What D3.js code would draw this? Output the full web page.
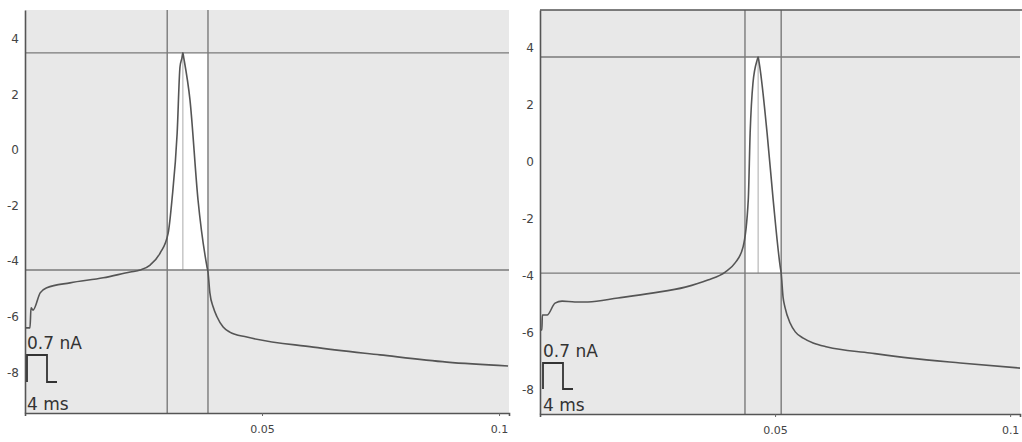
<!DOCTYPE html>
<html>
<head>
<meta charset="utf-8">
<script src="https://cdn.jsdelivr.net/npm/d3@7"></script>
<style>
  body { margin: 0; background: #fff; }
  svg { display: block; }
</style>
</head>
<body>
<div id="chart"></div>
<script>
// ---- data (time in s, value in the trace units) ----
var leftTime = [0, 0.00105, 0.00127, 0.0017, 0.0032, 0.0046, 0.0095, 0.0165, 0.0222, 0.0243, 0.0264, 0.0285,
    0.0302, 0.0310, 0.0321, 0.0327, 0.0331, 0.0333, 0.0335, 0.0348, 0.0365, 0.0384, 0.0386, 0.0390,
    0.0397, 0.0405, 0.0418, 0.0432, 0.0468, 0.0608, 0.0749, 0.0890, 0.1019];
var leftValue = [-6.40, -6.40, -5.68, -5.76, -5.14, -4.96, -4.78, -4.60, -4.39, -4.32, -4.14, -3.71,
    -2.99, -1.80, 0.61, 2.99, 3.30, 3.49, 3.30, 1.80, -1.80, -4.21, -4.39, -5.14,
    -5.65, -6.00, -6.37, -6.55, -6.73, -7.09, -7.37, -7.63, -7.77];

var rightTime = [0, 0.0004, 0.0005, 0.0015, 0.0032, 0.0047, 0.0074, 0.0102, 0.0166, 0.0238, 0.0309, 0.0357,
    0.0394, 0.0415, 0.0432, 0.0443, 0.0447, 0.0453, 0.0462, 0.0464, 0.0466, 0.0483, 0.0496, 0.0511, 0.0513,
    0.0517, 0.0521, 0.0532, 0.0543, 0.0560, 0.0581, 0.0611, 0.0702, 0.0787, 0.0894, 0.1021];
var rightValue = [-5.89, -5.89, -5.37, -5.37, -4.95, -4.88, -4.91, -4.91, -4.77, -4.60, -4.39, -4.14,
    -3.86, -3.54, -2.98, -1.33, 1.02, 2.77, 3.58, 3.68, 3.50, 1.02, -1.33, -3.68, -3.90,
    -4.74, -5.09, -5.65, -5.96, -6.18, -6.35, -6.49, -6.70, -6.88, -7.05, -7.23];

// cursors: [x1, xPeak, x2] and [yTop, yBottom]
var leftCursorX = [0.0300, 0.0333, 0.0386];
var leftCursorY = [3.49, -4.32];
var rightCursorX = [0.0436, 0.0464, 0.0513];
var rightCursorY = [3.68, -3.90];

var yTicks = [-8, -6, -4, -2, 0, 2, 4];
var xTicks = [0.05, 0.1];
var stimLabel = "0.7 nA";
var timeLabel = "4 ms";

var svg = d3.select("#chart").append("svg")
    .attr("width", 1022)
    .attr("height", 442);

var panels = [
    {time: leftTime, value: leftValue, cx: leftCursorX, cy: leftCursorY,
     xr: [25, 509], yr: [413, 10], xd: [0, 0.1021], yd: [-9.46, 5.03], frameTop: false,
     stim: {x: 27, textY: 349, top: 355, bottom: 382, msY: 410}},
    {time: rightTime, value: rightValue, cx: rightCursorX, cy: rightCursorY,
     xr: [540, 1020], yr: [414, 10], xd: [0, 0.1021], yd: [-8.84, 5.33], frameTop: true,
     stim: {x: 543, textY: 357, top: 363, bottom: 389, msY: 411}}
];

panels.forEach(function(p) {
    var x = d3.scaleLinear().domain(p.xd).range(p.xr);
    var y = d3.scaleLinear().domain(p.yd).range(p.yr);
    var g = svg.append("g");

    // background
    g.append("rect")
        .attr("x", p.xr[0]).attr("y", p.yr[1])
        .attr("width", p.xr[1] - p.xr[0]).attr("height", p.yr[0] - p.yr[1])
        .attr("fill", "#e8e8e8");

    // white region between cursors
    g.append("rect")
        .attr("x", x(p.cx[0])).attr("y", y(p.cy[0]))
        .attr("width", x(p.cx[2]) - x(p.cx[0]))
        .attr("height", y(p.cy[1]) - y(p.cy[0]))
        .attr("fill", "#ffffff");

    // peak marker
    g.append("line")
        .attr("x1", x(p.cx[1])).attr("x2", x(p.cx[1]))
        .attr("y1", y(p.cy[0])).attr("y2", y(p.cy[1]))
        .attr("stroke", "#b8b8b8").attr("stroke-width", 1.2);

    // cursor lines
    [p.cx[0], p.cx[2]].forEach(function(c) {
        g.append("line")
            .attr("x1", x(c)).attr("x2", x(c))
            .attr("y1", p.yr[1]).attr("y2", p.yr[0])
            .attr("stroke", "#7a7a7a").attr("stroke-width", 1.4);
    });
    p.cy.forEach(function(c) {
        g.append("line")
            .attr("x1", p.xr[0]).attr("x2", p.xr[1])
            .attr("y1", y(c)).attr("y2", y(c))
            .attr("stroke", "#7a7a7a").attr("stroke-width", 1.4);
    });

    // trace
    var pts = p.time.map(function(t, i) { return [t, p.value[i]]; });
    var line = d3.line()
        .x(function(d) { return x(d[0]); })
        .y(function(d) { return y(d[1]); })
        .curve(d3.curveMonotoneX);
    g.append("path")
        .attr("d", line(pts))
        .attr("fill", "none")
        .attr("stroke", "#555")
        .attr("stroke-width", 1.6);

    // axes
    var yAxis = d3.axisLeft(y).tickValues(yTicks).tickSize(0).tickPadding(6).tickFormat(function(d) { return String(d); });
    g.append("g")
        .attr("transform", "translate(" + p.xr[0] + ",0)")
        .call(yAxis)
        .call(function(a) {
            a.select(".domain").attr("stroke", "#555").attr("stroke-width", 1.6);
            a.selectAll("text").attr("fill", "#444").style("font", "12px 'DejaVu Sans', sans-serif");
        });

    var xAxis = d3.axisBottom(x).tickValues(xTicks).tickSize(3).tickPadding(9).tickFormat(function(d) { return String(d); });
    g.append("g")
        .attr("transform", "translate(0," + p.yr[0] + ")")
        .call(xAxis)
        .call(function(a) {
            a.select(".domain").attr("stroke", "#555").attr("stroke-width", 1.6);
            a.selectAll(".tick line").attr("stroke", "#666");
            a.selectAll("text").attr("fill", "#444").style("font", "11px 'DejaVu Sans', sans-serif");
        });

    if (p.frameTop) {
        g.append("line")
            .attr("x1", p.xr[0]).attr("x2", 1022)
            .attr("y1", p.yr[1]).attr("y2", p.yr[1])
            .attr("stroke", "#555").attr("stroke-width", 1.6);
    }

    // stimulus scale icon
    var s = p.stim;
    g.append("text")
        .attr("x", s.x).attr("y", s.textY)
        .attr("fill", "#333")
        .style("font", "17px 'DejaVu Sans', sans-serif")
        .text(stimLabel);
    g.append("path")
        .attr("d", "M" + s.x + "," + s.bottom + "V" + s.top + "H" + (s.x + 20) + "V" + s.bottom + "H" + (s.x + 30))
        .attr("fill", "none")
        .attr("stroke", "#333")
        .attr("stroke-width", 1.8);
    g.append("text")
        .attr("x", s.x).attr("y", s.msY)
        .attr("fill", "#333")
        .style("font", "17px 'DejaVu Sans', sans-serif")
        .text(timeLabel);
});
</script>
</body>
</html>
